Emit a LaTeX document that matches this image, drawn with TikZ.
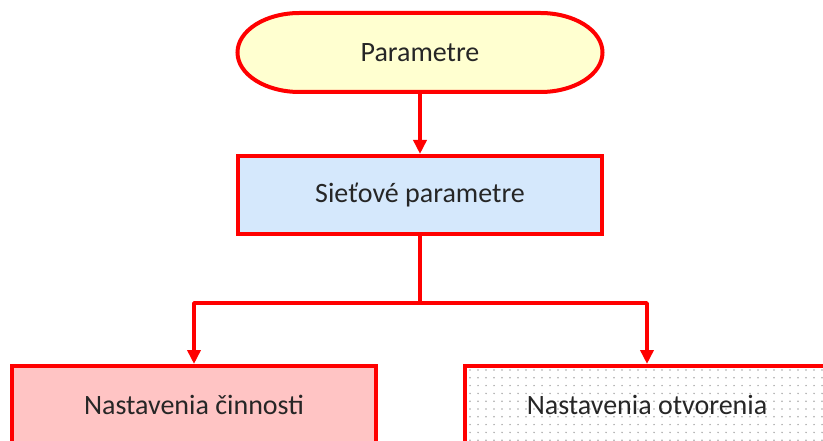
\documentclass[tikz,border=0pt]{standalone}
\usepackage{fontspec}
\setmainfont{Carlito}
\usetikzlibrary{arrows.meta,backgrounds}
\definecolor{boxred}{HTML}{FF0000}
\definecolor{termfill}{HTML}{FFFFD0}
\definecolor{netfill}{HTML}{D5E8FC}
\definecolor{actfill}{HTML}{FFC4C4}
\definecolor{txt}{HTML}{262626}
\definecolor{dotgray}{HTML}{A8A8A8}
\tikzset{
  boxstyle/.style={draw=boxred, line width=4pt, minimum width=364pt, minimum height=78pt,
    inner sep=0pt, text=txt, font=\fontsize{28pt}{34pt}\selectfont},
  connline/.style={draw=boxred, line width=3.5pt, line join=round},
  connarrow/.style={connline, -{Triangle[width=13pt,length=14pt]}},
}
\begin{document}
\begin{tikzpicture}[x=1pt,y=-1pt]
\useasboundingbox (0,0) rectangle (823,441);
% terminal
\node[inner sep=0pt, outer sep=0pt, minimum width=365pt, minimum height=79pt,
  text=txt, font=\fontsize{28pt}{34pt}\selectfont] (term) at (420,52.5) {Parametre};
\begin{scope}[on background layer]
\draw[draw=boxred, fill=termfill, line width=4pt]
  ([xshift=62pt]term.north west) -- ([xshift=-62pt]term.north east)
  arc[start angle=90, end angle=-90, x radius=62pt, y radius=39.5pt]
  -- ([xshift=62pt]term.south west)
  arc[start angle=270, end angle=90, x radius=62pt, y radius=39.5pt]
  -- cycle;
\end{scope}
% boxes
\node[boxstyle, fill=netfill] (net) at (420,195) {Sieťové parametre};
\node[boxstyle, fill=actfill] (act) at (194,405) {Nastavenia činnosti};
\node[boxstyle] (open) at (647,405) {Nastavenia otvorenia};
\begin{scope}[on background layer]
  \fill[white] (open.south west) rectangle (open.north east);
  \clip ([shift={(4pt,-4pt)}]open.south west) rectangle ([shift={(-4pt,4pt)}]open.north east);
  \foreach \i in {0,...,46} {
    \foreach \j in {0,...,11} {
      \fill[dotgray] (470+8*\i, 370+7.8*\j) circle (0.85pt);
    }
  }
\end{scope}
% connectors
\coordinate (split) at (420,303);
\draw[connarrow] (term.south) -- (net.north);
\draw[connline] (net.south) -- (split);
\draw[connarrow] (split) -| (act.north);
\draw[connarrow] (split) -| (open.north);
\end{tikzpicture}
\end{document}
